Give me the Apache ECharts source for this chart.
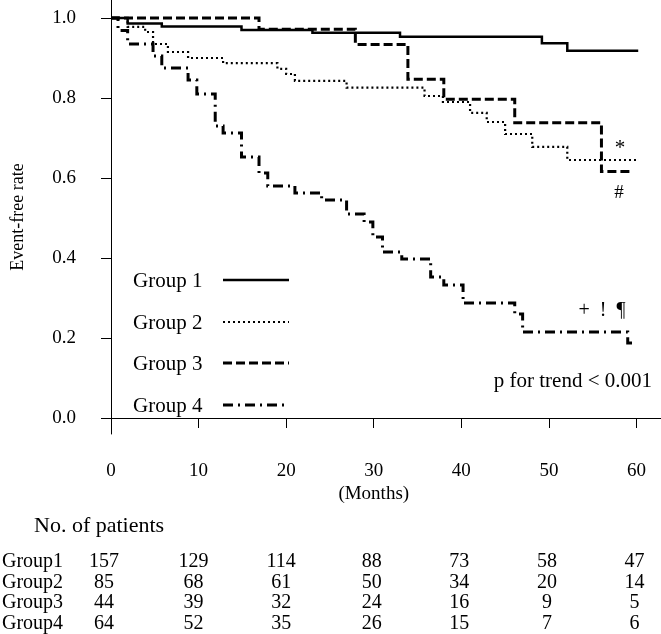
<!DOCTYPE html>
<html>
<head>
<meta charset="utf-8">
<script src="https://cdn.jsdelivr.net/npm/echarts@6/dist/echarts.min.js"></script>
<style>
html,body{margin:0;padding:0;background:#fff;}
#c{width:661px;height:634px;}
</style>
</head>
<body>
<div id="c"></div>
<script>
// ---- data ----
const groupNames = ['Group 1', 'Group 2', 'Group 3', 'Group 4'];
const tableNames = ['Group1', 'Group2', 'Group3', 'Group4'];
const xTicks = [0, 10, 20, 30, 40, 50, 60];
const yTicks = [0.0, 0.2, 0.4, 0.6, 0.8, 1.0];

// Kaplan-Meier steps: [month, value after the step]
const group1 = [[0,1.0],[1.9,0.986],[5.8,0.979],[14.9,0.970],[23.0,0.963],[33.0,0.953],[49.2,0.937],[52.1,0.918],[60.2,0.918]];
const group2 = [[0,1.0],[1.9,0.978],[3.9,0.965],[4.8,0.935],[6.5,0.915],[8.8,0.900],[12.8,0.887],[19.0,0.873],[20.0,0.860],[21.0,0.843],[26.9,0.826],[35.8,0.805],[37.9,0.790],[41.0,0.763],[42.9,0.740],[45.0,0.710],[48.1,0.678],[52.1,0.645],[60.2,0.645]];
const group3 = [[0,1.0],[16.9,0.972],[27.9,0.934],[33.9,0.847],[38.0,0.797],[46.1,0.738],[56.0,0.616],[59.6,0.616]];
const group4 = [[0,1.0],[0.8,0.969],[1.9,0.935],[4.8,0.905],[5.8,0.875],[8.8,0.845],[9.8,0.810],[11.9,0.730],[12.8,0.7125],[14.9,0.6525],[16.9,0.6125],[17.9,0.580],[21.0,0.5625],[24.05,0.545],[26.9,0.510],[28.9,0.490],[29.9,0.4525],[31.0,0.415],[33.2,0.3975],[36.5,0.3525],[38.0,0.3325],[40.2,0.2875],[46.1,0.260],[47.0,0.215],[59.0,0.1875],[60.0,0.1875]];

// numbers at risk at months 0,10,...,60
const risk1 = [157, 129, 114, 88, 73, 58, 47];
const risk2 = [85, 68, 61, 50, 34, 20, 14];
const risk3 = [44, 39, 32, 24, 16, 9, 5];
const risk4 = [64, 52, 35, 26, 15, 7, 6];

const FONT = "'Liberation Serif', 'Times New Roman', serif";
const dashes = ['solid', [2, 3], [9, 4], [10, 5, 2, 5]];
const widths = [2.5, 2.2, 3, 3];
const curves = [group1, group2, group3, group4];

const chart = echarts.init(document.getElementById('c'), null, {renderer: 'canvas'});

const series = curves.map((d, i) => ({
  name: groupNames[i],
  type: 'line',
  step: 'end',
  data: d,
  showSymbol: false,
  symbol: 'none',
  animation: false,
  lineStyle: {color: '#000', width: widths[i], type: dashes[i], cap: 'butt', join: 'miter'},
  z: 5 - i
}));

chart.setOption({
  animation: false,
  backgroundColor: '#fff',
  grid: {left: 111, right: 0, top: 0, bottom: 200, containLabel: false, outerBoundsMode: 'none'},
  xAxis: {
    type: 'value', min: 0, max: 62.8, interval: 10,
    axisLine: {show: true, lineStyle: {color: '#000', width: 1}},
    axisTick: {show: true, length: 10, lineStyle: {color: '#000'}, customValues: xTicks},
    axisLabel: {color: '#000', fontFamily: FONT, fontSize: 19, margin: 28, customValues: xTicks},
    splitLine: {show: false}
  },
  yAxis: {
    type: 'value', min: -0.04, max: 1.045,
    name: 'Event-free rate', nameLocation: 'middle', nameRotate: 90, nameGap: 84,
    nameTextStyle: {color: '#000', fontFamily: FONT, fontSize: 18},
    axisLine: {show: true, lineStyle: {color: '#000', width: 1}},
    axisTick: {show: true, length: 10, lineStyle: {color: '#000'}, customValues: yTicks},
    axisLabel: {color: '#000', fontFamily: FONT, fontSize: 19, margin: 35, customValues: yTicks,
      formatter: v => v.toFixed(1)},
    splitLine: {show: false}
  },
  series: series
});

// ---- annotations, legend and at-risk table ----
const px = (m, v) => chart.convertToPixel({gridIndex: 0}, [m, v]);
const g = [];
const txt = (x, y, s, size, align) => ({
  type: 'text', x: x, y: y, silent: true,
  style: {text: s, fill: '#000', font: size + 'px ' + FONT, textAlign: align || 'left', textVerticalAlign: 'middle'}
});

// legend
const legendY = [281, 323, 364, 406];
groupNames.forEach((n, i) => {
  g.push(txt(133, legendY[i], n, 21));
  g.push({type: 'line', silent: true,
    shape: {x1: 223, y1: legendY[i] - 1, x2: 289, y2: legendY[i] - 1},
    style: {stroke: '#000', lineWidth: widths[i], lineDash: dashes[i] === 'solid' ? null : dashes[i]}});
});

// annotations
g.push(txt(620, 148, '*', 21, 'center'));
g.push(txt(619, 193, '#', 19, 'center'));
g.push(txt(602, 311, '+  !  ¶', 20, 'center'));
g.push(txt(652, 381, 'p for trend < 0.001', 21, 'right'));

// x axis title
g.push(txt(px(30, 0)[0], 494, '(Months)', 19, 'center'));

// table
g.push(txt(34, 526, 'No. of patients', 22));
const risks = [risk1, risk2, risk3, risk4];
const rowY = [562, 583, 603, 624];
risks.forEach((r, i) => {
  g.push(txt(2, rowY[i], tableNames[i], 20));
  r.forEach((n, j) => {
    const x = px(xTicks[j], 0)[0] - (j === 0 ? 7 : (j < 3 ? 5 : 2));
    g.push(txt(x, rowY[i], String(n), 20, 'center'));
  });
});

chart.setOption({graphic: {elements: g}});
</script>
</body>
</html>
